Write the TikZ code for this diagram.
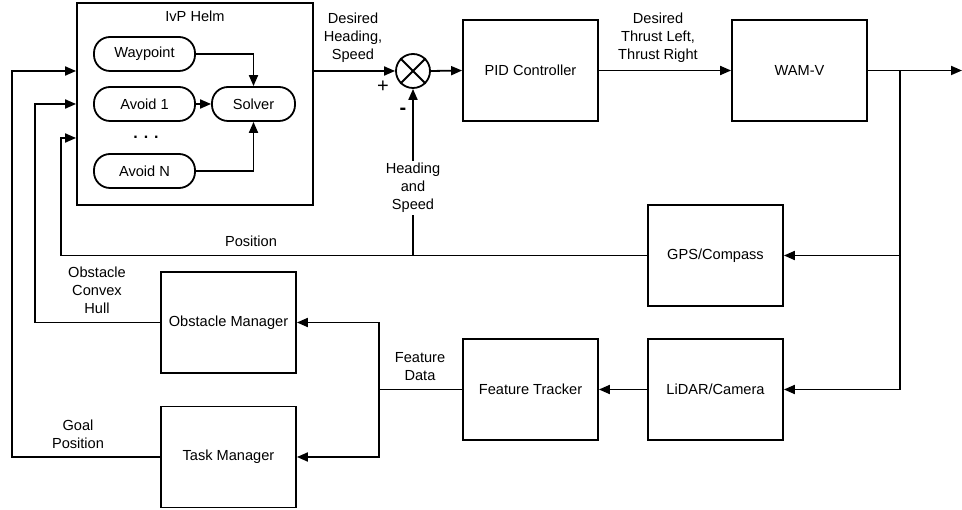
\documentclass[tikz,border=0pt]{standalone}
\usepackage{fontspec}
\setmainfont{Liberation Sans}
\usetikzlibrary{arrows.meta,calc}
\tikzset{
  every node/.style={font=\fontsize{14.6}{18}\selectfont, inner sep=0pt},
  line/.style={line width=1.8},
  arr/.style={line, -{Triangle[length=11,width=9]}},
  blk/.style={draw, line width=1.8, minimum width=135, minimum height=101},
  pill/.style={draw, line width=1.8, rounded corners=16, minimum width=101, minimum height=34},
  lbl/.style={align=center}
}
\begin{document}
\begin{tikzpicture}[x=1pt,y=-1pt]
\useasboundingbox (0,0) rectangle (962,510);

% helm with its behaviours
\node[draw, line width=1.8, minimum width=236, minimum height=202] (helm) at (195,104) {};
\node (helmtitle) at (195,16) {IvP Helm};
\node[pill] (wp) at (144.5,54) {Waypoint};
\node[pill] (a1) at (144.5,104) {Avoid 1};
\node[pill] (an) at (144.5,171) {Avoid N};
\node[pill, minimum width=83] (solver) at (253.5,104) {Solver};
\node[anchor=base, font=\fontsize{16}{16}\bfseries] (dots) at (146,139) {.\hspace{6pt}.\hspace{6pt}.};
\draw[arr] (wp.east) -| (solver.north);
\draw[arr] (a1.east) -- (solver.west);
\draw[arr] (an.east) -| (solver.south);

% forward path
\node[circle, draw, line width=1.8, minimum size=34] (sum) at (413,71) {};
\draw[line] (sum.north west) -- (sum.south east);
\draw[line] (sum.north east) -- (sum.south west);
\node (plus) at (383,87) {\fontsize{20}{20}\selectfont +};
\node (minus) at (403,111) {\fontsize{20}{20}\bfseries -};
\node[blk] (pid) at (530.5,70.5) {PID Controller};
\node[blk] (wam) at (799.5,70.5) {WAM-V};

\coordinate (helmout) at (helm.east |- sum);
\draw[arr] (helmout) -- (sum.west);
\node[lbl] (dhs) at (353,38) {Desired\\Heading,\\Speed};
\draw[arr] (sum.east) -- (pid.west);
\draw[arr] (pid.east) -- (wam.west);
\node[lbl] (dtl) at (658,38) {Desired\\Thrust Left,\\Thrust Right};
\coordinate (out) at (962,70.5);
\draw[arr] (wam.east) -- (out);

% sensors
\node[blk] (gps) at (715.5,255.5) {GPS/Compass};
\node[blk] (lidar) at (715.5,389.5) {LiDAR/Camera};
\node[blk] (ft) at (530.5,389.5) {Feature Tracker};
\node[blk] (obs) at (228.5,322.5) {Obstacle Manager};
\node[blk] (task) at (228.5,457) {Task Manager};

\coordinate (br) at (900,70.5);
\draw[arr] (br) |- (gps.east);
\draw[arr] (br) |- (lidar.east);
\draw[arr] (lidar.west) -- (ft.west -| ft.east);

% position feedback
\coordinate (pc) at (61,255.5);
\coordinate (in3) at ($(helm.west)+(0,34)$);
\draw[arr] (gps.west) -- (pc) |- (in3);
\node (pos) at (251,241) {Position};
\coordinate (hs) at (sum |- gps.west);
\draw[arr] (hs) -- (sum.south);
\node[lbl, fill=white, inner ysep=2pt] (hsl) at (413,188) {Heading\\and\\Speed};

% feature data to managers
\coordinate (fj) at (379,389.5);
\draw[line] (ft.west) -- (fj);
\draw[arr] (fj) |- (obs.east);
\draw[arr] (fj) |- (task.east);
\node[lbl] (fd) at (420,367) {Feature\\Data};

% manager outputs to helm
\coordinate (oc) at (35,322.5);
\draw[arr] (obs.west) -- (oc) |- (helm.west);
\node[lbl] (och) at (97,290) {Obstacle\\Convex\\Hull};
\coordinate (tc) at (12,457);
\coordinate (in1) at (helm.west |- sum);
\draw[arr] (task.west) -- (tc) |- (in1);
\node[lbl] (gp) at (78,434) {Goal\\Position};
\end{tikzpicture}
\end{document}
